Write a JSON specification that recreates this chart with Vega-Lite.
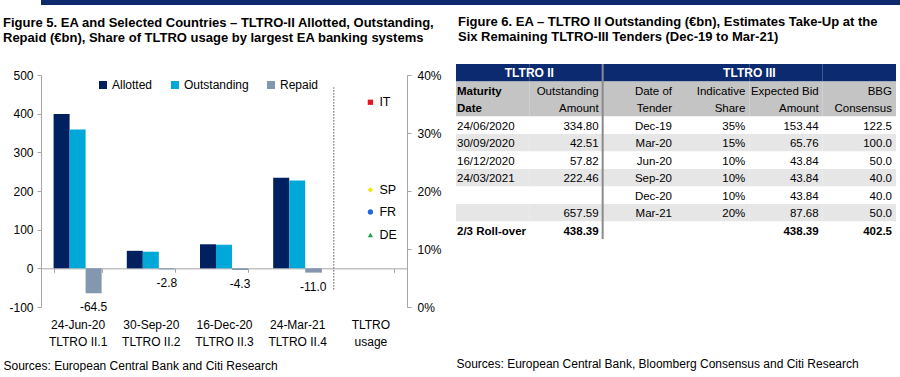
{
  "$schema": "https://vega.github.io/schema/vega-lite/v6.json",
  "padding": {"left": 3, "top": 0, "right": 0, "bottom": 0},
  "background": "white",
  "config": {
    "font": "Liberation Sans",
    "locale": {"number": {"decimal": ".", "thousands": ",", "grouping": [3], "currency": ["$", ""], "minus": "-"}},
    "view": {"stroke": null},
    "axis": {"labelColor": "#000000", "titleColor": "#000000", "domainColor": "#a6a6a6", "tickColor": "#a6a6a6", "labelFontSize": 12, "titleFontSize": 12, "titleFontWeight": "normal", "grid": false, "labelOverlap": false},
    "title": {"fontSize": 13, "fontWeight": "bold", "color": "#000000", "anchor": "start", "lineHeight": 15}
  },
  "datasets": {
    "stripe": [{"band": "top"}],
    "bars": [
      {"tender": "24-Jun-20|TLTRO II.1", "series": "Allotted", "value": 399.3},
      {"tender": "24-Jun-20|TLTRO II.1", "series": "Outstanding", "value": 359},
      {"tender": "24-Jun-20|TLTRO II.1", "series": "Repaid", "value": -64.5},
      {"tender": "30-Sep-20|TLTRO II.2", "series": "Allotted", "value": 45.3},
      {"tender": "30-Sep-20|TLTRO II.2", "series": "Outstanding", "value": 43},
      {"tender": "30-Sep-20|TLTRO II.2", "series": "Repaid", "value": -2.8},
      {"tender": "16-Dec-20|TLTRO II.3", "series": "Allotted", "value": 62.2},
      {"tender": "16-Dec-20|TLTRO II.3", "series": "Outstanding", "value": 61},
      {"tender": "16-Dec-20|TLTRO II.3", "series": "Repaid", "value": -4.3},
      {"tender": "24-Mar-21|TLTRO II.4", "series": "Allotted", "value": 234},
      {"tender": "24-Mar-21|TLTRO II.4", "series": "Outstanding", "value": 227},
      {"tender": "24-Mar-21|TLTRO II.4", "series": "Repaid", "value": -11.0}
    ],
    "divider": [{"tender": "TLTRO|usage", "from": -55, "to": 468}],
    "shares": [
      {"tender": "TLTRO|usage", "country": "IT", "share": 0.353},
      {"tender": "TLTRO|usage", "country": "SP", "share": 0.202},
      {"tender": "TLTRO|usage", "country": "FR", "share": 0.164},
      {"tender": "TLTRO|usage", "country": "DE", "share": 0.124}
    ],
    "cells": [
      {"row": "group", "col": "Maturity Date", "text": "TLTRO II"},
      {"row": "group", "col": "Outstanding Amount", "text": ""},
      {"row": "group", "col": "Date of Tender", "text": ""},
      {"row": "group", "col": "Indicative Share", "text": "TLTRO III"},
      {"row": "group", "col": "Expected Bid Amount", "text": ""},
      {"row": "group", "col": "BBG Consensus", "text": ""},
      {"row": "head1", "col": "Maturity Date", "text": "Maturity"},
      {"row": "head1", "col": "Outstanding Amount", "text": "Outstanding"},
      {"row": "head1", "col": "Date of Tender", "text": "Date of"},
      {"row": "head1", "col": "Indicative Share", "text": "Indicative"},
      {"row": "head1", "col": "Expected Bid Amount", "text": "Expected Bid"},
      {"row": "head1", "col": "BBG Consensus", "text": "BBG"},
      {"row": "head2", "col": "Maturity Date", "text": "Date"},
      {"row": "head2", "col": "Outstanding Amount", "text": "Amount"},
      {"row": "head2", "col": "Date of Tender", "text": "Tender"},
      {"row": "head2", "col": "Indicative Share", "text": "Share"},
      {"row": "head2", "col": "Expected Bid Amount", "text": "Amount"},
      {"row": "head2", "col": "BBG Consensus", "text": "Consensus"},
      {"row": "r1", "col": "Maturity Date", "text": "24/06/2020"},
      {"row": "r1", "col": "Outstanding Amount", "text": "334.80"},
      {"row": "r1", "col": "Date of Tender", "text": "Dec-19"},
      {"row": "r1", "col": "Indicative Share", "text": "35%"},
      {"row": "r1", "col": "Expected Bid Amount", "text": "153.44"},
      {"row": "r1", "col": "BBG Consensus", "text": "122.5"},
      {"row": "r2", "col": "Maturity Date", "text": "30/09/2020"},
      {"row": "r2", "col": "Outstanding Amount", "text": "42.51"},
      {"row": "r2", "col": "Date of Tender", "text": "Mar-20"},
      {"row": "r2", "col": "Indicative Share", "text": "15%"},
      {"row": "r2", "col": "Expected Bid Amount", "text": "65.76"},
      {"row": "r2", "col": "BBG Consensus", "text": "100.0"},
      {"row": "r3", "col": "Maturity Date", "text": "16/12/2020"},
      {"row": "r3", "col": "Outstanding Amount", "text": "57.82"},
      {"row": "r3", "col": "Date of Tender", "text": "Jun-20"},
      {"row": "r3", "col": "Indicative Share", "text": "10%"},
      {"row": "r3", "col": "Expected Bid Amount", "text": "43.84"},
      {"row": "r3", "col": "BBG Consensus", "text": "50.0"},
      {"row": "r4", "col": "Maturity Date", "text": "24/03/2021"},
      {"row": "r4", "col": "Outstanding Amount", "text": "222.46"},
      {"row": "r4", "col": "Date of Tender", "text": "Sep-20"},
      {"row": "r4", "col": "Indicative Share", "text": "10%"},
      {"row": "r4", "col": "Expected Bid Amount", "text": "43.84"},
      {"row": "r4", "col": "BBG Consensus", "text": "40.0"},
      {"row": "r5", "col": "Maturity Date", "text": ""},
      {"row": "r5", "col": "Outstanding Amount", "text": ""},
      {"row": "r5", "col": "Date of Tender", "text": "Dec-20"},
      {"row": "r5", "col": "Indicative Share", "text": "10%"},
      {"row": "r5", "col": "Expected Bid Amount", "text": "43.84"},
      {"row": "r5", "col": "BBG Consensus", "text": "40.0"},
      {"row": "r6", "col": "Maturity Date", "text": ""},
      {"row": "r6", "col": "Outstanding Amount", "text": "657.59"},
      {"row": "r6", "col": "Date of Tender", "text": "Mar-21"},
      {"row": "r6", "col": "Indicative Share", "text": "20%"},
      {"row": "r6", "col": "Expected Bid Amount", "text": "87.68"},
      {"row": "r6", "col": "BBG Consensus", "text": "50.0"},
      {"row": "total", "col": "Maturity Date", "text": "2/3 Roll-over"},
      {"row": "total", "col": "Outstanding Amount", "text": "438.39"},
      {"row": "total", "col": "Date of Tender", "text": ""},
      {"row": "total", "col": "Indicative Share", "text": ""},
      {"row": "total", "col": "Expected Bid Amount", "text": "438.39"},
      {"row": "total", "col": "BBG Consensus", "text": "402.5"}
    ],
    "split": [{"col": "Date of Tender"}]
  },
  "spacing": 11,
  "vconcat": [
    {
      "width": 900, "height": 5,
      "data": {"name": "stripe"},
      "mark": {"type": "rect", "color": "#0d2a6e"},
      "encoding": {}
    },
    {
      "spacing": 14,
      "hconcat": [
        {
          "width": 366, "height": 243,
          "title": {"text": ["Figure 5. EA and Selected Countries – TLTRO-II Allotted, Outstanding,", "Repaid (€bn), Share of TLTRO usage by largest EA banking systems"], "offset": 19},
          "layer": [
            {
              "layer": [
                {
                  "data": {"name": "bars"},
                  "mark": {"type": "bar"},
                  "encoding": {
                    "x": {"field": "tender", "type": "nominal",
                      "scale": {"type": "band", "domain": ["24-Jun-20|TLTRO II.1", "30-Sep-20|TLTRO II.2", "16-Dec-20|TLTRO II.3", "24-Mar-21|TLTRO II.4", "TLTRO|usage"], "paddingInner": 0.344, "paddingOuter": 0.172},
                      "axis": {"title": "Sources: European Central Bank and Citi Research", "titleAnchor": "start", "titleAlign": "left", "titleX": -38, "titlePadding": 13, "offset": -38.67, "tickBand": "extent", "tickSize": 4, "labelPadding": 47, "labelAngle": 0, "labelExpr": "split(datum.label, '|')", "labelLineHeight": 17, "labelOverlap": false}},
                    "xOffset": {"field": "series", "type": "nominal", "scale": {"type": "band", "domain": ["Allotted", "Outstanding", "Repaid"], "paddingInner": 0, "paddingOuter": 0}},
                    "y": {"field": "value", "type": "quantitative",
                      "scale": {"domain": [-100, 500], "range": [243, 11], "nice": false, "zero": false},
                      "axis": {"orient": "left", "values": [-100, 0, 100, 200, 300, 400, 500], "tickSize": 4, "labelPadding": 4, "title": null, "labelOverlap": false}},
                    "color": {"field": "series", "type": "nominal",
                      "scale": {"domain": ["Allotted", "Outstanding", "Repaid"], "range": ["#002060", "#00a8d8", "#8497b0"]},
                      "legend": {"orient": "none", "legendX": 56, "legendY": 15, "direction": "horizontal", "title": null, "symbolType": "square", "symbolSize": 64, "labelFontSize": 12, "columnPadding": 16, "labelOffset": 3, "labelColor": "#000000"}}
                  }
                },
                {
                  "data": {"name": "bars"},
                  "transform": [{"filter": "datum.series === 'Repaid'"}],
                  "mark": {"type": "text", "baseline": "middle", "dy": 14, "fontSize": 12, "color": "#000000"},
                  "encoding": {
                    "x": {"field": "tender", "type": "nominal"},
                    "xOffset": {"field": "series", "type": "nominal"},
                    "y": {"field": "value", "type": "quantitative"},
                    "text": {"field": "value", "type": "quantitative", "format": ".1f"}
                  }
                },
                {
                  "data": {"name": "divider"},
                  "mark": {"type": "rule", "strokeDash": [1.5, 1.5], "color": "#555555", "strokeWidth": 1},
                  "encoding": {
                    "x": {"field": "tender", "type": "nominal", "bandPosition": -0.262},
                    "y": {"field": "from", "type": "quantitative"},
                    "y2": {"field": "to"}
                  }
                }
              ]
            },
            {
              "layer": [
                {
                  "data": {"name": "shares"},
                  "mark": {"type": "point", "filled": true, "size": 28, "opacity": 1},
                  "encoding": {
                    "x": {"field": "tender", "type": "nominal"},
                    "y": {"field": "share", "type": "quantitative",
                      "scale": {"domain": [0, 0.4], "range": [243, 11], "nice": false},
                      "axis": {"orient": "right", "format": ".0%", "values": [0, 0.05, 0.1, 0.15, 0.2, 0.25, 0.3, 0.35, 0.4], "tickSize": 4, "labelPadding": 6, "title": null, "labelOverlap": false}},
                    "shape": {"field": "country", "type": "nominal", "scale": {"domain": ["IT", "SP", "FR", "DE"], "range": ["square", "diamond", "circle", "triangle-up"]}, "legend": null},
                    "color": {"field": "country", "type": "nominal", "scale": {"domain": ["IT", "SP", "FR", "DE"], "range": ["#e8141c", "#f2e600", "#1f66e5", "#20a050"]}, "legend": null}
                  }
                },
                {
                  "data": {"name": "shares"},
                  "mark": {"type": "text", "align": "left", "baseline": "middle", "dx": 9, "fontSize": 12.5, "color": "#000000"},
                  "encoding": {
                    "x": {"field": "tender", "type": "nominal"},
                    "y": {"field": "share", "type": "quantitative"},
                    "text": {"field": "country"}
                  }
                }
              ]
            }
          ],
          "resolve": {"scale": {"y": "independent", "color": "independent"}}
        },
        {
          "width": 440, "height": 175,
          "title": {"text": ["Figure 6. EA – TLTRO II Outstanding (€bn), Estimates Take-Up at the", "Six Remaining TLTRO-III Tenders (Dec-19 to Mar-21)"], "offset": 19, "dx": 2},
          "data": {"name": "cells"},
          "layer": [
            {
              "mark": {"type": "rect"},
              "encoding": {
                "x": {"field": "col", "type": "nominal",
                  "scale": {"type": "band", "domain": ["Maturity Date", "Outstanding Amount", "Date of Tender", "Indicative Share", "Expected Bid Amount", "BBG Consensus"], "paddingInner": 0, "paddingOuter": 0},
                  "axis": {"labels": false, "ticks": false, "domain": false, "title": "Sources: European Central Bank, Bloomberg Consensus and Citi Research", "titleAnchor": "start", "titleAlign": "left", "titlePadding": 119}},
                "y": {"field": "row", "type": "nominal",
                  "scale": {"type": "band", "domain": ["group", "head1", "head2", "r1", "r2", "r3", "r4", "r5", "r6", "total"], "paddingInner": 0, "paddingOuter": 0},
                  "axis": null},
                "fill": {"field": "row", "type": "nominal",
                  "scale": {"domain": ["group", "head1", "head2", "r1", "r2", "r3", "r4", "r5", "r6", "total"], "range": ["#0b2a6f", "#c4c4c4", "#c4c4c4", "#ffffff", "#e6e6e6", "#ffffff", "#e6e6e6", "#ffffff", "#e6e6e6", "#ffffff"]},
                  "legend": null}
              }
            },
            {
              "transform": [{"filter": "datum.col !== 'Maturity Date' && datum.row !== 'group' && datum.row !== 'total'"}],
              "mark": {"type": "text", "align": "right", "baseline": "middle", "dx": -4, "dy": 1.5, "fontSize": 11.5, "color": "#000000"},
              "encoding": {
                "x": {"field": "col", "type": "nominal", "bandPosition": 1},
                "y": {"field": "row", "type": "nominal"},
                "text": {"field": "text"}
              }
            },
            {
              "transform": [{"filter": "datum.col === 'Maturity Date' && indexof(['r1','r2','r3','r4','r5','r6'], datum.row) >= 0"}],
              "mark": {"type": "text", "align": "left", "baseline": "middle", "dx": 1, "dy": 1.5, "fontSize": 11.5, "color": "#000000"},
              "encoding": {
                "x": {"field": "col", "type": "nominal", "bandPosition": 0},
                "y": {"field": "row", "type": "nominal"},
                "text": {"field": "text"}
              }
            },
            {
              "transform": [{"filter": "datum.col === 'Maturity Date' && indexof(['head1','head2','total'], datum.row) >= 0"}],
              "mark": {"type": "text", "align": "left", "baseline": "middle", "dx": 1, "dy": 1.5, "fontSize": 11.5, "fontWeight": "bold", "color": "#000000"},
              "encoding": {
                "x": {"field": "col", "type": "nominal", "bandPosition": 0},
                "y": {"field": "row", "type": "nominal"},
                "text": {"field": "text"}
              }
            },
            {
              "transform": [{"filter": "datum.col !== 'Maturity Date' && datum.row === 'total'"}],
              "mark": {"type": "text", "align": "right", "baseline": "middle", "dx": -4, "dy": 1.5, "fontSize": 11.5, "fontWeight": "bold", "color": "#000000"},
              "encoding": {
                "x": {"field": "col", "type": "nominal", "bandPosition": 1},
                "y": {"field": "row", "type": "nominal"},
                "text": {"field": "text"}
              }
            },
            {
              "transform": [{"filter": "datum.row === 'group' && datum.text !== ''"}],
              "mark": {"type": "text", "align": "center", "baseline": "middle", "dy": 0.5, "fontSize": 12, "fontWeight": "bold", "color": "#ffffff"},
              "encoding": {
                "x": {"field": "col", "type": "nominal", "bandPosition": 1},
                "y": {"field": "row", "type": "nominal"},
                "text": {"field": "text"}
              }
            },
            {
              "data": {"name": "split"},
              "mark": {"type": "rule", "color": "#8a8a8a", "strokeWidth": 2},
              "encoding": {
                "x": {"field": "col", "type": "nominal", "bandPosition": 0}
              }
            }
          ]
        }
      ]
    }
  ]
}
